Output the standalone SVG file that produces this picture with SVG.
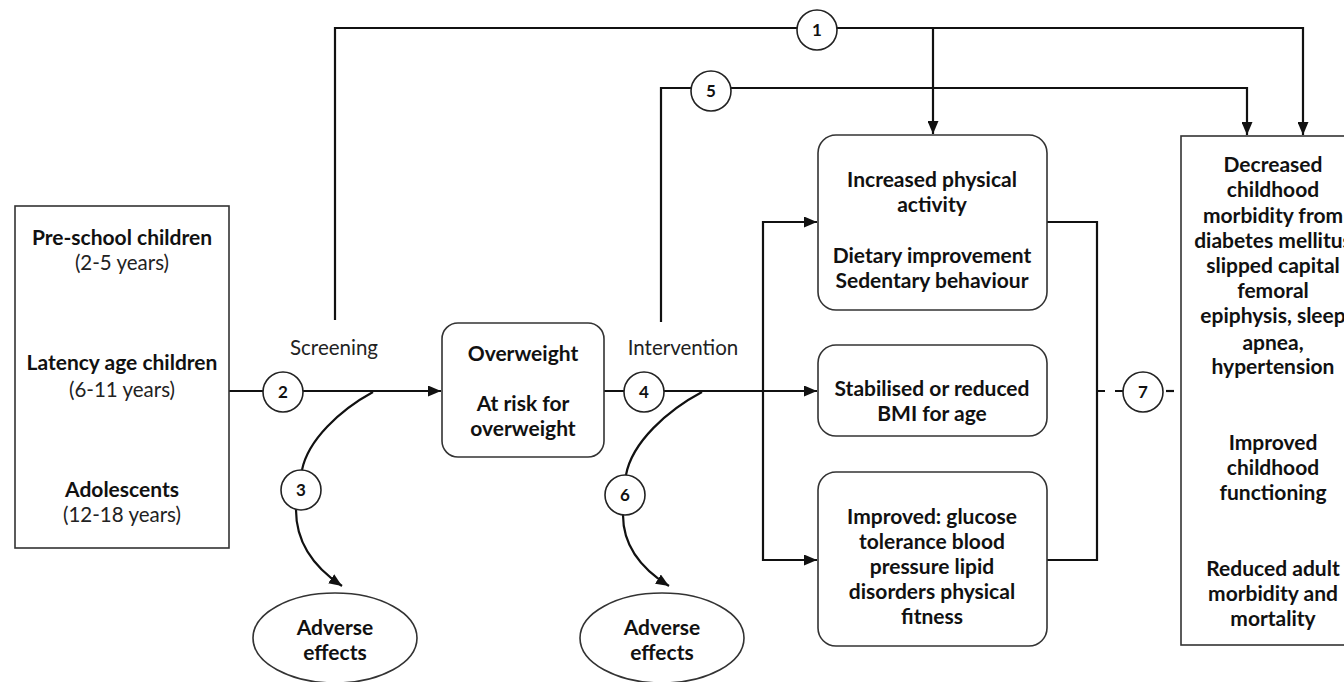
<svg xmlns="http://www.w3.org/2000/svg" width="1344" height="682" viewBox="0 0 1344 682">
  <style>
    .box { fill: #fff; stroke: #333; stroke-width: 1.6; }
    .wire { fill: none; stroke: #111; stroke-width: 2.2; }
    .ring { fill: #fff; stroke: #222; stroke-width: 1.6; }
    .b { font-family: Lato, "Liberation Sans", sans-serif; font-weight: bold; font-size: 21px; fill: #111; text-anchor: middle; }
    .r { font-family: Lato, "Liberation Sans", sans-serif; font-size: 20.5px; fill: #222; text-anchor: middle; }
    .n { font-family: Lato, "Liberation Sans", sans-serif; font-weight: bold; font-size: 17px; fill: #111; text-anchor: middle; }
  </style>
  <defs>
    <marker id="arrow" viewBox="0 0 13 11" refX="13" refY="5.5" markerWidth="13" markerHeight="11" markerUnits="userSpaceOnUse" orient="auto">
      <path d="M0,0 L13,5.5 L0,11 Z" fill="#111"/>
    </marker>
  </defs>
  <rect width="1344" height="682" fill="#fff"/>

  <!-- connectors -->
  <g id="connectors">
    <!-- path 1: screening to outcomes -->
    <path class="wire" d="M335,320 V28 H1303 V135" marker-end="url(#arrow)"/>
    <path class="wire" d="M933,28 V134" marker-end="url(#arrow)"/>
    <!-- path 5: intervention to outcomes -->
    <path class="wire" d="M661,322 V88 H1247 V135" marker-end="url(#arrow)"/>
    <!-- main flow -->
    <path class="wire" d="M229,391 H441" marker-end="url(#arrow)"/>
    <path class="wire" d="M604,391 H817" marker-end="url(#arrow)"/>
    <!-- branch to intermediate outcomes -->
    <path class="wire" d="M763,391 V222 H817" marker-end="url(#arrow)"/>
    <path class="wire" d="M763,391 V560 H817" marker-end="url(#arrow)"/>
    <!-- bracket joining intermediate outcomes -->
    <path class="wire" d="M1047,222 H1097 V560 H1047"/>
    <!-- dashed link 7 -->
    <path class="wire" d="M1097,391 H1123" stroke-dasharray="8 10"/>
    <path class="wire" d="M1166,391 H1174"/>
    <!-- adverse effects curves -->
    <path class="wire" d="M373,392 C340,410 308,440 302,470"/>
    <path class="wire" d="M296,510 C296,540 312,566 342,586" marker-end="url(#arrow)"/>
    <path class="wire" d="M702,392 C668,410 632,442 626,475"/>
    <path class="wire" d="M623,515 C623,545 640,568 669,586" marker-end="url(#arrow)"/>
  </g>

  <!-- numbered markers -->
  <g id="k1"><circle class="ring" cx="817" cy="30" r="20"/><text class="n" x="817" y="36">1</text></g>
  <g id="k2"><circle class="ring" cx="283" cy="392" r="20"/><text class="n" x="283" y="398">2</text></g>
  <g id="k3"><circle class="ring" cx="301" cy="490" r="20"/><text class="n" x="301" y="496">3</text></g>
  <g id="k4"><circle class="ring" cx="644" cy="392" r="20"/><text class="n" x="644" y="398">4</text></g>
  <g id="k5"><circle class="ring" cx="711" cy="91" r="20"/><text class="n" x="711" y="97">5</text></g>
  <g id="k6"><circle class="ring" cx="625" cy="495" r="20"/><text class="n" x="625" y="501">6</text></g>
  <g id="k7"><circle class="ring" cx="1143" cy="392" r="20"/><text class="n" x="1143" y="398">7</text></g>

  <!-- labels on the main flow -->
  <text class="r" x="334" y="355">Screening</text>
  <text class="r" x="683" y="355">Intervention</text>

  <!-- population -->
  <g id="population">
    <rect class="box" x="15" y="206" width="214" height="342"/>
    <text class="b" x="122" y="245">Pre-school children</text>
    <text class="r" x="122" y="270">(2-5 years)</text>
    <text class="b" x="122" y="370">Latency age children</text>
    <text class="r" x="122" y="397">(6-11 years)</text>
    <text class="b" x="122" y="497">Adolescents</text>
    <text class="r" x="122" y="522">(12-18 years)</text>
  </g>

  <!-- overweight -->
  <g id="overweight">
    <rect class="box" x="442" y="323" width="162" height="134" rx="16"/>
    <text class="b" x="523" y="361">Overweight</text>
    <text class="b" x="523" y="411">At risk for</text>
    <text class="b" x="523" y="436">overweight</text>
  </g>

  <!-- intermediate outcomes -->
  <g id="behaviour">
    <rect class="box" x="818" y="135" width="229" height="175" rx="18"/>
    <text class="b" x="932" y="187">Increased physical</text>
    <text class="b" x="932" y="212">activity</text>
    <text class="b" x="932" y="263">Dietary improvement</text>
    <text class="b" x="932" y="288">Sedentary behaviour</text>
  </g>
  <g id="bmi">
    <rect class="box" x="818" y="345" width="229" height="91" rx="18"/>
    <text class="b" x="932" y="396">Stabilised or reduced</text>
    <text class="b" x="932" y="421">BMI for age</text>
  </g>
  <g id="physiology">
    <rect class="box" x="818" y="472" width="229" height="174" rx="18"/>
    <text class="b" x="932" y="524">Improved: glucose</text>
    <text class="b" x="932" y="549">tolerance blood</text>
    <text class="b" x="932" y="574">pressure lipid</text>
    <text class="b" x="932" y="599">disorders physical</text>
    <text class="b" x="932" y="624">fitness</text>
  </g>

  <!-- health outcomes -->
  <g id="health">
    <rect class="box" x="1181" y="136" width="180" height="509"/>
    <text class="b" x="1273" y="172">Decreased</text>
    <text class="b" x="1273" y="197">childhood</text>
    <text class="b" x="1273" y="223">morbidity from</text>
    <text class="b" x="1273" y="248">diabetes mellitus</text>
    <text class="b" x="1273" y="273">slipped capital</text>
    <text class="b" x="1273" y="298">femoral</text>
    <text class="b" x="1273" y="323">epiphysis, sleep</text>
    <text class="b" x="1273" y="350">apnea,</text>
    <text class="b" x="1273" y="374">hypertension</text>
    <text class="b" x="1273" y="450">Improved</text>
    <text class="b" x="1273" y="475">childhood</text>
    <text class="b" x="1273" y="500">functioning</text>
    <text class="b" x="1273" y="576">Reduced adult</text>
    <text class="b" x="1273" y="601">morbidity and</text>
    <text class="b" x="1273" y="626">mortality</text>
  </g>

  <!-- adverse effects -->
  <g id="adverse-screening">
    <ellipse class="box" cx="335" cy="638" rx="82" ry="45"/>
    <text class="b" x="335" y="635">Adverse</text>
    <text class="b" x="335" y="660">effects</text>
  </g>
  <g id="adverse-intervention">
    <ellipse class="box" cx="662" cy="638" rx="82" ry="45"/>
    <text class="b" x="662" y="635">Adverse</text>
    <text class="b" x="662" y="660">effects</text>
  </g>
</svg>
